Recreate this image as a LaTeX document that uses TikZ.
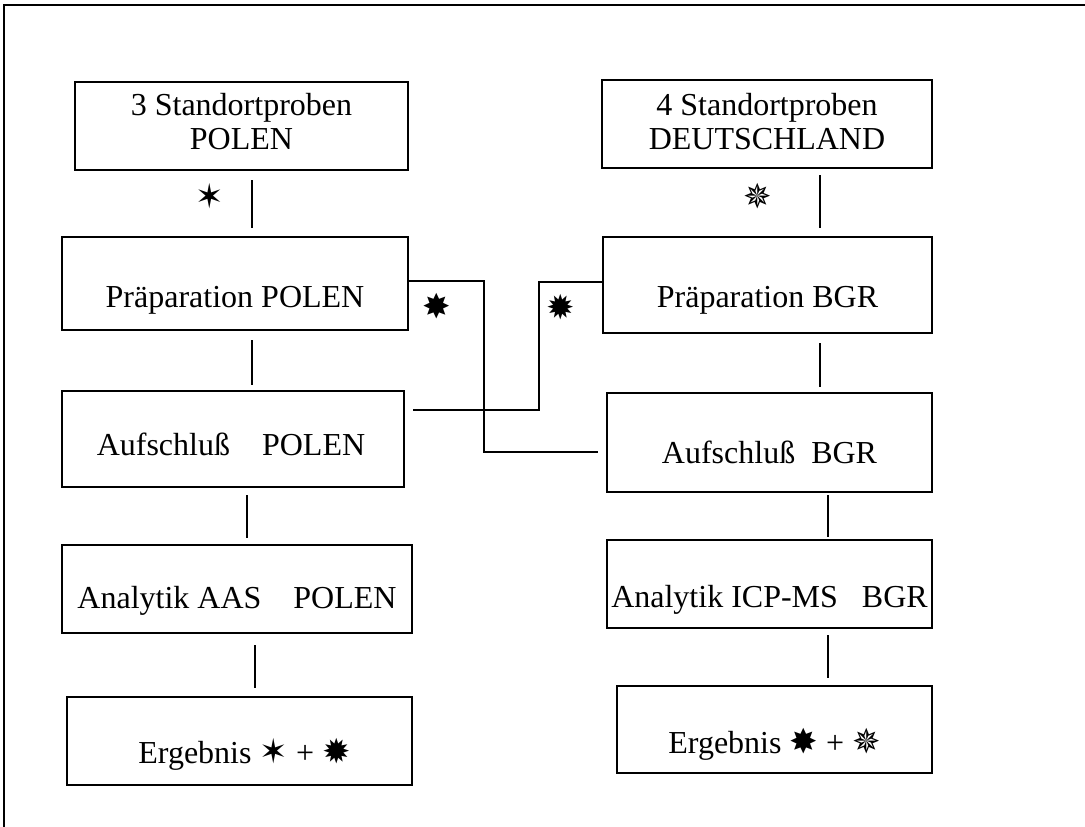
\documentclass[tikz,border=0pt]{standalone}
\usepackage{fontspec}
\setmainfont{Liberation Serif}
\newfontfamily\symfont{DejaVu Sans}
\tikzset{
  box/.style={draw, line width=1.1pt, inner sep=0pt, align=center,
    font=\fontsize{32}{34}\selectfont},
  lbl/.style={font=\fontsize{32}{34}\selectfont, inner sep=0pt, align=center},
  conn/.style={line width=1.1pt},
  sym/.style={inner sep=0pt, font=\symfont\fontsize{34}{34}\selectfont}
}
\newcommand{\symA}[1]{{\symfont\fontsize{34}{34}\selectfont #1}}
\begin{document}
\begin{tikzpicture}[x=1pt,y=-1pt]
\useasboundingbox (0,0) rectangle (1085,827);
\draw[conn] (4,827) -- (4,5) -- (1085,5);
% left column
\node[box, minimum width=333pt, minimum height=88pt,
  label={[lbl,yshift=4pt]center:3 Standortproben\\POLEN}] (l1) at (241.5,126) {};
\node[box, minimum width=346pt, minimum height=93pt,
  label={[lbl,yshift=-17pt]center:Präparation POLEN}] (l2) at (235,283.5) {};
\node[box, minimum width=342pt, minimum height=96pt,
  label={[lbl,yshift=-5pt,xshift=-2pt]center:Aufschluß\ \ \ \ POLEN}] (l3) at (233,439) {};
\node[box, minimum width=350pt, minimum height=88pt,
  label={[lbl,yshift=-12pt]center:Analytik AAS\ \ \ \ POLEN}] (l4) at (237,589) {};
\node[box, minimum width=345pt, minimum height=88pt,
  label={[lbl,yshift=-13pt,xshift=5pt]center:Ergebnis \symA{✶} + \symA{✹}}] (l5) at (239.5,741) {};
% right column
\node[box, minimum width=330pt, minimum height=88pt,
  label={[lbl,yshift=2pt]center:4 Standortproben\\DEUTSCHLAND}] (r1) at (767,124) {};
\node[box, minimum width=329pt, minimum height=96pt,
  label={[lbl,yshift=-15pt]center:Präparation BGR}] (r2) at (767.5,285) {};
\node[box, minimum width=325pt, minimum height=99pt,
  label={[lbl,yshift=-10pt]center:Aufschluß\ \ BGR}] (r3) at (769.5,442.5) {};
\node[box, minimum width=325pt, minimum height=88pt,
  label={[lbl,yshift=-16pt]center:Analytik ICP-MS\ \ \ BGR}] (r4) at (769.5,584) {};
\node[box, minimum width=315pt, minimum height=87pt,
  label={[lbl,yshift=-15pt]center:Ergebnis \symA{✸} + \symA{✵}}] (r5) at (774.5,729.5) {};
% vertical connectors (free-standing)
\coordinate (a1) at (252,180); \coordinate (a2) at (252,228);
\coordinate (b1) at (252,340); \coordinate (b2) at (252,385);
\coordinate (c1) at (247,495); \coordinate (c2) at (247,538);
\coordinate (d1) at (255,645); \coordinate (d2) at (255,688);
\coordinate (e1) at (820,175); \coordinate (e2) at (820,228);
\coordinate (f1) at (820,343); \coordinate (f2) at (820,387);
\coordinate (g1) at (828,495); \coordinate (g2) at (828,537);
\coordinate (h1) at (828,635); \coordinate (h2) at (828,678);
\foreach \p/\q in {a1/a2,b1/b2,c1/c2,d1/d2,e1/e2,f1/f2,g1/g2,h1/h2}
  \draw[conn] (\p) -- (\q);
% cross connectors
\coordinate (x1) at (484,281);
\coordinate (x2) at (484,452);
\coordinate (x3) at (598,452);
\draw[conn] (l2.east |- x1) -- (x1) -- (x2) -- (x3);
\coordinate (y1) at (413,410);
\coordinate (y2) at (539,410);
\coordinate (y3) at (539,282);
\draw[conn] (y1) -- (y2) -- (y3) -- (r2.west |- y3);
% symbols
\node[sym] (s1) at (210,196) {✶};
\node[sym] (s2) at (758,196) {✵};
\node[sym] (s3) at (437,306) {✸};
\node[sym] (s4) at (561,307) {✹};
\end{tikzpicture}
\end{document}
